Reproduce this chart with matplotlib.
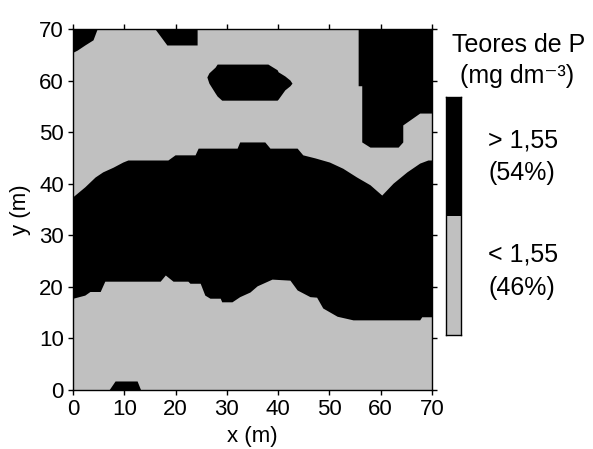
import numpy as np
import matplotlib.pyplot as plt

plt.rcParams['font.family'] = ['Liberation Sans', 'DejaVu Sans']

GRAY = '#c0c0c0'

# lower edge of the central high-P band (gray below)
band_bottom_x = [0, 2.3, 3.3, 5.3, 6.2, 17, 18, 19.5, 22.4, 22.8, 24.8, 25.7, 26.7, 28.7, 29, 31,
                 32.5, 34.5, 35.9, 38.8, 42.3, 43.7, 46.2, 47.5, 48.7, 51.5, 54.6, 67.6, 68, 70]
band_bottom_y = [17.8, 18.4, 19.1, 19.1, 21.1, 21.1, 22.3, 21.1, 21.1, 20.7, 20.7, 18.4, 17.8, 17.8, 17.1, 17.1,
                 18.1, 19.0, 20.2, 21.5, 21.3, 19.4, 18.1, 18.0, 15.9, 14.3, 13.6, 13.6, 14.2, 14.2]

# upper edge of the central band (gray above)
band_top_x = [0, 2.3, 4.3, 5.8, 7.8, 9.7, 10.7, 18.5, 19.9, 23.8, 24.4, 32, 32.5, 37.4, 38.4, 43.7,
              44.8, 47.2, 50, 52.6, 55.3, 57.9, 60.2, 62.4, 65.1, 67.6, 69.2, 70]
band_top_y = [37.5, 39.4, 41.3, 42.3, 43.2, 44.2, 44.6, 44.6, 45.6, 45.6, 46.9, 46.9, 48.1, 48.1, 46.9, 46.9,
              45.6, 45.0, 44.2, 43.0, 41.3, 39.8, 37.8, 40.1, 42.3, 44.0, 44.6, 44.6]

# high-P patch in the upper right corner (lower edge, up to y=70)
tr_x = [55.6, 56.3, 56.3, 57.9, 63.4, 64.3, 64.3, 67.6, 70]
tr_y = [59.0, 59.0, 48.1, 47.1, 47.1, 48.1, 51.4, 53.7, 53.7]

# isolated patch near (34, 60)
ell_x = [26.1, 26.5, 27.7, 28.1, 29.0, 38.0, 39.8, 40.0, 41.3, 42.3, 42.7]
ell_top = [60.7, 61.5, 62.6, 63.2, 63.2, 63.2, 62.1, 61.7, 60.9, 60.1, 59.5]
ell_bot = [60.7, 59.5, 57.6, 57.0, 56.2, 56.2, 56.2, 56.4, 58.2, 59.0, 59.5]

# small patches on the top and bottom edges
tl_x = [0, 0.8, 2.3, 3.9, 4.7]
tl_y = [65.5, 65.9, 66.9, 67.9, 70]
tm_x = [16.0, 18.3, 24.2, 24.2]
tm_y = [70, 66.9, 66.9, 70]
bump_x = [7.0, 8.2, 12.5, 13.2]
bump_y = [0, 1.75, 1.75, 0]

classes = ['> 1,55', '< 1,55']
percents = ['(54%)', '(46%)']
class_colors = ['black', GRAY]

fig = plt.figure(figsize=(5.93, 4.49), dpi=100)
ax = fig.add_axes([0.1231, 0.1314, 0.6054, 0.804])
ax.set_facecolor(GRAY)

ax.fill_between(band_bottom_x, band_bottom_y, 70, color='black', lw=0)
ax.fill_between(band_top_x, band_top_y, 70, color=GRAY, lw=0)
ax.fill_between(tr_x, tr_y, 70, color='black', lw=0)
ax.fill_between(ell_x, ell_bot, ell_top, color='black', lw=0)
ax.fill_between(tl_x, tl_y, 70, color='black', lw=0)
ax.fill_between(tm_x, tm_y, 70, color='black', lw=0)
ax.fill_between(bump_x, 0, bump_y, color='black', lw=0)

ax.set_xlim(0, 70)
ax.set_ylim(0, 70)
ax.set_xticks(range(0, 71, 10))
ax.set_yticks(range(0, 71, 10))
ax.tick_params(direction='out', length=3.6, width=1, pad=3, labelsize=16,
               top=True, right=True)
for s in ax.spines.values():
    s.set_linewidth(1)
ax.set_xlabel('x (m)', fontsize=16, labelpad=4)
ax.set_ylabel('y (m)', fontsize=16, labelpad=6)

# class legend drawn as a two-segment bar
cax = fig.add_axes([0.752, 0.2539, 0.0253, 0.530])
for i, c in enumerate(class_colors):
    cax.bar(0, 1, bottom=len(class_colors) - 1 - i, width=1, color=c, lw=0)
cax.set_xlim(-0.5, 0.5)
cax.set_ylim(0, len(class_colors))
cax.set_xticks([])
cax.set_yticks([])
for s in cax.spines.values():
    s.set_linewidth(1)

fig.text(0.762, 0.884, 'Teores de P', fontsize=18, va='baseline')
fig.text(0.776, 0.815, '(mg dm⁻³)', fontsize=18, va='baseline')
label_y = [(0.672, 0.599), (0.4165, 0.343)]
for (y1, y2), cl, pc in zip(label_y, classes, percents):
    fig.text(0.823, y1, cl, fontsize=18, va='baseline')
    fig.text(0.823, y2, pc, fontsize=18, va='baseline')

fig.savefig('out.png', dpi=100)
